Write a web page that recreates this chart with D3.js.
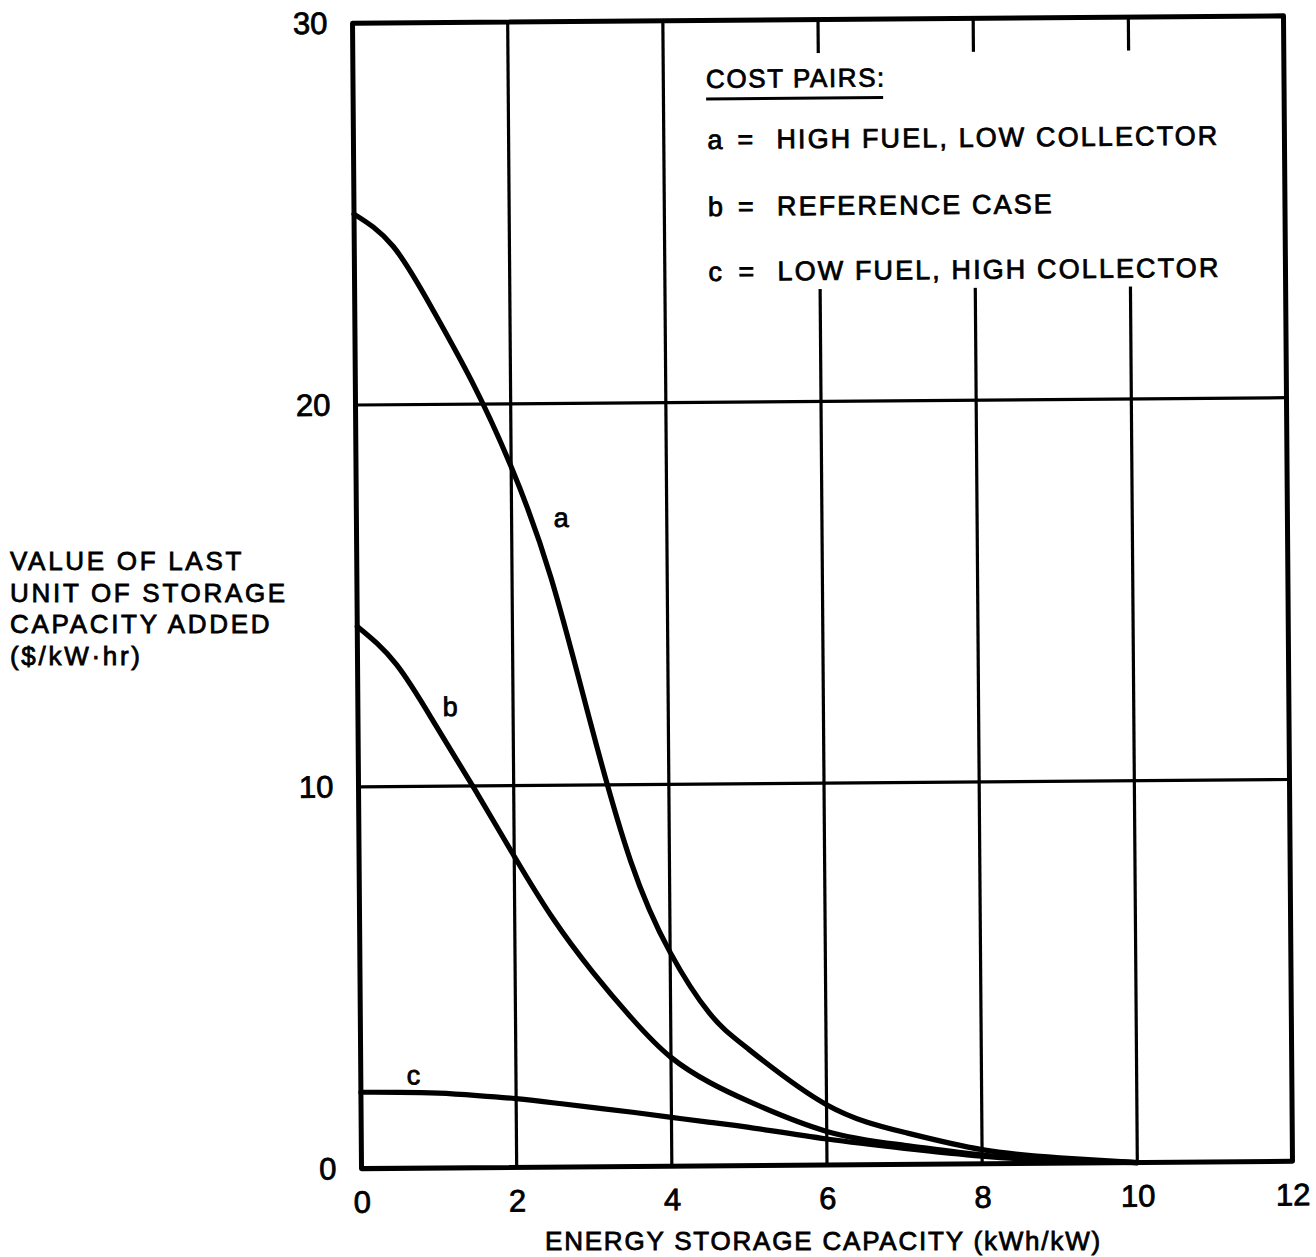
<!DOCTYPE html>
<html><head><meta charset="utf-8">
<script src="https://cdn.jsdelivr.net/npm/d3@7"></script>
<style>
body{margin:0;background:#fff}
svg text{font-family:"Liberation Sans",Arial,Helvetica,sans-serif;fill:#000;stroke:#000;stroke-width:0.8px}
</style>
</head><body>
<svg id="chart" width="1316" height="1257"></svg>
<script>
// ---- data ----
const xValues = [0, 0.5, 1, 1.5, 2, 2.5, 3, 3.5, 4, 4.5, 5, 6, 7, 8, 9, 10];
const seriesA = [25.0, 24.15, 22.5, 20.6, 18.35, 15.45, 11.6, 8.0, 5.6, 4.0, 3.05, 1.58, 0.84, 0.37, 0.14, 0];
const seriesB = [14.2, 13.2, 11.6, 9.9, 8.15, 6.49, 5.1, 3.88, 2.85, 2.18, 1.68, 0.88, 0.5, 0.23, 0.08, 0];
const seriesC = [2.0, 1.99, 1.96, 1.89, 1.8, 1.68, 1.55, 1.42, 1.28, 1.14, 1.0, 0.68, 0.42, 0.2, 0.06, 0];
const seriesNames = ["a", "b", "c"];
const legendKeys = ["a", "b", "c"];
const legendTexts = ["HIGH FUEL, LOW COLLECTOR", "REFERENCE CASE", "LOW FUEL, HIGH COLLECTOR"];
const legendTitle = "COST PAIRS:";
const xTicks = [0, 2, 4, 6, 8, 10, 12];
const yTicks = [0, 10, 20, 30];
const xGrid = [2, 4, 6, 8, 10];
const yGrid = [10, 20];
const labelX = [2.64, 1.19, 0.68];
const labelY = [17.0, 12.07, 2.43];
const xTitle = "ENERGY STORAGE CAPACITY (kWh/kW)";
const yTitleLines = ["VALUE OF LAST", "UNIT OF STORAGE", "CAPACITY ADDED", "($/kW\u00B7hr)"];

// ---- layout ----
const L = 357, R = 1288, T = 19.5, B = 1165;
const svg = d3.select("#chart");
const x = d3.scaleLinear().domain([0, 12]).range([L, R]);
const y = d3.scaleLinear().domain([0, 30]).range([B, T]);

const g = svg.append("g").attr("transform", "rotate(-0.45 822 592)");

// gridlines
g.selectAll("line.vg").data(xGrid).join("line").attr("class", "vg")
  .attr("x1", d => x(d)).attr("x2", d => x(d)).attr("y1", T).attr("y2", B)
  .attr("stroke", "#000").attr("stroke-width", 3.2);
g.selectAll("line.hg").data(yGrid).join("line").attr("class", "hg")
  .attr("y1", d => y(d)).attr("y2", d => y(d)).attr("x1", L).attr("x2", R)
  .attr("stroke", "#000").attr("stroke-width", 3.2);

// gap in the grid behind the legend
g.append("rect").attr("x", 700).attr("y", 53).attr("width", 555).attr("height", 236).attr("fill", "#fff");

// frame
g.append("rect").attr("x", L).attr("y", T).attr("width", R - L).attr("height", B - T)
  .attr("fill", "none").attr("stroke", "#000").attr("stroke-width", 5).attr("stroke-linejoin", "round");

// curves
const seriesData = [seriesA, seriesB, seriesC];
const line = d3.line().x(d => x(d[0])).y(d => y(Math.max(0, d[1]))).curve(d3.curveNatural);
g.selectAll("path.curve").data(seriesData).join("path").attr("class", "curve")
  .attr("d", s => line(xValues.map((v, i) => [v, s[i]])))
  .attr("fill", "none").attr("stroke", "#000").attr("stroke-width", 5.2).attr("stroke-linecap", "round");

// curve labels
g.selectAll("text.cl").data(seriesNames).join("text").attr("class", "cl")
  .attr("x", (d, i) => x(labelX[i])).attr("y", (d, i) => y(labelY[i]))
  .attr("text-anchor", "middle").attr("dominant-baseline", "central")
  .attr("font-size", 27).text(d => d);

// axes (tick labels only)
const xAxis = g.append("g").attr("transform", `translate(0,${B})`)
  .call(d3.axisBottom(x).tickValues(xTicks).tickSize(0).tickPadding(22).tickFormat(d3.format("d")));
const yAxis = g.append("g").attr("transform", `translate(${L},0)`)
  .call(d3.axisLeft(y).tickValues(yTicks).tickSize(0).tickPadding(25).tickFormat(d3.format("d")));
[xAxis, yAxis].forEach(a => {
  a.select(".domain").remove();
  a.selectAll("text").attr("font-size", 31).attr("font-family", null).attr("fill", "#000")
    .style("font-family", '"Liberation Sans",Arial,sans-serif');
});

// legend
const lg = g.append("g");
lg.append("text").attr("x", 710).attr("y", 87).attr("font-size", 26).attr("letter-spacing", 1.6).text(legendTitle);
lg.append("line").attr("x1", 710).attr("x2", 887).attr("y1", 98).attr("y2", 98).attr("stroke", "#000").attr("stroke-width", 3);
const rowY = [148, 215, 280];
legendKeys.forEach((k, i) => {
  lg.append("text").attr("x", 711).attr("y", rowY[i]).attr("font-size", 27).text(k);
  lg.append("text").attr("x", 741).attr("y", rowY[i]).attr("font-size", 27).text("=");
  lg.append("text").attr("x", 780).attr("y", rowY[i]).attr("font-size", 27).attr("letter-spacing", 2.1).text(legendTexts[i]);
});

// titles
svg.append("text").attr("x", 545).attr("y", 1250).attr("font-size", 26).attr("letter-spacing", 1.8).text(xTitle);
svg.selectAll("text.yt").data(yTitleLines).join("text").attr("class", "yt")
  .attr("x", 10).attr("y", (d, i) => 570 + i * 31.5).attr("font-size", 26).attr("letter-spacing", 2.7).text(d => d);
</script>
</body></html>
